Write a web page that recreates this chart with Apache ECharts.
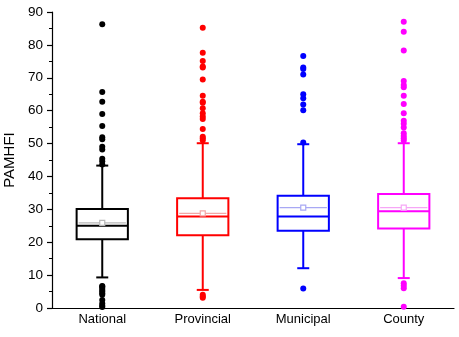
<!DOCTYPE html>
<html>
<head>
<meta charset="utf-8">
<script src="https://cdn.jsdelivr.net/npm/echarts@6/dist/echarts.min.js"></script>
<style>html,body{margin:0;padding:0;background:#fff;}#c{width:459px;height:337px;}</style>
</head>
<body>
<div id="c"></div>
<script>
const categories = ['National', 'Provincial', 'Municipal', 'County'];
const yTicks = [0, 10, 20, 30, 40, 50, 60, 70, 80, 90];
const lowWhisker = [9.3, 5.5, 12.1, 9.1];
const q1 = [20.9, 22.1, 23.5, 24.2];
const median = [25.0, 27.8, 27.8, 29.4];
const q3 = [30.1, 33.4, 34.1, 34.7];
const highWhisker = [43.3, 50.1, 49.8, 50.1];
const means = [25.9, 28.8, 30.5, 30.5];
const outliersNational = [86.3, 65.7, 62.7, 59.0, 55.3, 51.9, 51.3, 49.0, 48.2, 45.4, 44.6, 43.6,
  6.7, 6.5, 6.1, 5.5, 5.0, 4.5, 4.0, 2.4, 1.4, 0.7, 0.3];
const outliersProvincial = [85.2, 77.6, 75.1, 73.4, 73.1, 69.5, 64.5, 62.7, 62.4, 60.7, 59.2, 58.2, 57.5,
  54.4, 52.1, 51.6, 51.0, 4.0, 3.5, 3.1];
const outliersMunicipal = [76.6, 73.1, 72.7, 71.0, 65.0, 63.8, 61.9, 60.1, 50.3, 5.9];
const outliersCounty = [87.0, 84.0, 78.3, 69.0, 67.8, 67.1, 64.5, 62.0, 59.2, 56.9, 56.0, 54.9,
  53.1, 52.3, 51.6, 50.9, 7.5, 6.8, 6.0, 0.4];
const outliers = [outliersNational, outliersProvincial, outliersMunicipal, outliersCounty];
const colors = ['#000000', '#ff0000', '#0000ff', '#ff00ff'];
const meanColors = ['#b8b8b8', '#f4a6a6', '#a8a8f4', '#f6a6f6'];

const boxData = categories.map((c, i) => [i, lowWhisker[i], q1[i], median[i], q3[i], highWhisker[i], means[i]]);

function renderBox(params, api) {
  const i = api.value(0);
  const x = api.coord([i, 0])[0];
  const bw = api.size([1, 0])[0] * 0.51;
  const yLo = api.coord([i, api.value(1)])[1];
  const yQ1 = api.coord([i, api.value(2)])[1];
  const yMed = api.coord([i, api.value(3)])[1];
  const yQ3 = api.coord([i, api.value(4)])[1];
  const yHi = api.coord([i, api.value(5)])[1];
  const yMean = api.coord([i, api.value(6)])[1];
  const col = colors[i];
  const mcol = meanColors[i];
  const cap = 6;
  const ls = {stroke: col, lineWidth: 2, fill: null};
  return {
    type: 'group',
    children: [
      {type: 'line', shape: {x1: x, y1: yHi, x2: x, y2: yQ3}, style: ls},
      {type: 'line', shape: {x1: x, y1: yQ1, x2: x, y2: yLo}, style: ls},
      {type: 'line', shape: {x1: x - cap, y1: yHi, x2: x + cap, y2: yHi}, style: ls},
      {type: 'line', shape: {x1: x - cap, y1: yLo, x2: x + cap, y2: yLo}, style: ls},
      {type: 'rect', shape: {x: x - bw / 2, y: yQ3, width: bw, height: yQ1 - yQ3}, style: {stroke: col, lineWidth: 2, fill: '#fff'}},
      {type: 'line', shape: {x1: x - bw / 2 + 2, y1: yMean, x2: x + bw / 2 - 2, y2: yMean}, style: {stroke: mcol, lineWidth: 1.2}},
      {type: 'line', shape: {x1: x - bw / 2, y1: yMed, x2: x + bw / 2, y2: yMed}, style: ls},
      {type: 'rect', shape: {x: x - 2.5, y: yMean - 2.5, width: 5, height: 5}, style: {stroke: mcol, lineWidth: 1.2, fill: '#fff'}}
    ]
  };
}

const series = [{
  type: 'custom',
  renderItem: renderBox,
  data: boxData,
  encode: {x: 0, y: [1, 2, 3, 4, 5, 6]},
  z: 2
}];
outliers.forEach((arr, i) => {
  series.push({
    type: 'scatter',
    symbol: 'circle',
    symbolSize: 6,
    itemStyle: {color: colors[i], opacity: 1},
    data: arr.map(v => [i, v]),
    z: 3,
    silent: true
  });
});

const chart = echarts.init(document.getElementById('c'), null, {renderer: 'canvas'});
chart.setOption({
  animation: false,
  backgroundColor: '#fff',
  textStyle: {fontFamily: 'Liberation Sans'},
  grid: {left: 52, right: 5, top: 12, bottom: 29, containLabel: false, outerBoundsMode: 'none'},
  xAxis: {
    type: 'category',
    data: categories,
    boundaryGap: true,
    axisLine: {lineStyle: {color: '#000', width: 1.2}},
    axisTick: {alignWithLabel: true, length: 5, lineStyle: {color: '#000', width: 1.2}},
    axisLabel: {color: '#000', fontSize: 13, margin: 5, fontFamily: 'Liberation Sans'},
    splitLine: {show: false}
  },
  yAxis: {
    type: 'value',
    min: yTicks[0],
    max: yTicks[yTicks.length - 1],
    interval: 10,
    name: 'PAMHFI',
    nameLocation: 'middle',
    nameGap: 34,
    nameTextStyle: {color: '#000', fontSize: 15, fontFamily: 'Liberation Sans'},
    axisLine: {show: true, lineStyle: {color: '#000', width: 1.2}},
    axisTick: {show: true, length: 5, lineStyle: {color: '#000', width: 1.2}},
    minorTick: {show: true, splitNumber: 2, length: 3, lineStyle: {color: '#000', width: 1}},
    axisLabel: {color: '#000', fontSize: 13.5, margin: 9, fontFamily: 'Liberation Sans'},
    splitLine: {show: false}
  },
  series: series
});
</script>
</body>
</html>
